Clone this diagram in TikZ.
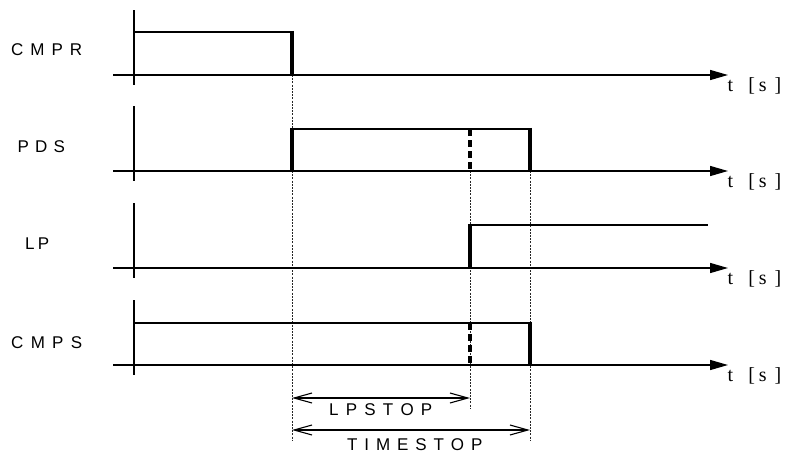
\documentclass[tikz,border=0pt]{standalone}
\usepackage{fontspec}
\setmainfont{Liberation Serif}
\newfontfamily\labfont{Liberation Sans}
\usetikzlibrary{arrows.meta}
\newcommand{\gp}[1]{\hspace{#1pt}}
\begin{document}
\begin{tikzpicture}[x=1pt,y=-1pt,
 taxis/.style={line width=1.4pt,-{Triangle[length=18pt,width=10pt]}},
 vaxis/.style={line width=1.5pt},
 sig/.style={line width=2.2pt},
 sedge/.style={line width=3.2pt},
 dedge/.style={line width=3.2pt,dash pattern=on 7pt off 4pt},
 guide/.style={line width=0.9pt,dash pattern=on 2pt off 1.2pt,black!85},
 dim/.style={line width=1.1pt,{Straight Barb[length=18pt,width=10pt]}-{Straight Barb[length=18pt,width=10pt]}},
 lab/.style={font=\labfont\fontsize{17}{20}\selectfont,anchor=base west,inner sep=0pt},
 unitlab/.style={font=\fontsize{20}{24}\selectfont,anchor=base west,inner sep=0pt}]
\useasboundingbox (0,0) rectangle (791,450);
% guides
\coordinate (g1a) at (292,75);  \coordinate (g1b) at (292,440);
\coordinate (g2a) at (470,171); \coordinate (g2b) at (470,408);
\coordinate (g3a) at (530,171); \coordinate (g3b) at (530,440);
\draw[guide] (g1a) -- (g1b);
\draw[guide] (g2a) -- (g2b);
\draw[guide] (g3a) -- (g3b);
% axes
\foreach \yy/\nm in {75/a, 171/b, 268/c, 365/d}{
  \coordinate (h\nm s) at (113.3,\yy);
  \coordinate (h\nm e) at (728,\yy);
  \coordinate (v\nm s) at (134,\yy-65);
  \coordinate (v\nm e) at (134,\yy+10);
  \draw[taxis] (h\nm s) -- (h\nm e);
  \draw[vaxis] (v\nm s) -- (v\nm e);
  \node[unitlab] (u\nm) at (727.5,\yy+16.7) {t\gp{15}[\gp{4}s\gp{8}]};
}
% CMPR
\draw[sig] (134,32) -- (293,32);
\draw[sedge] (292,30.9) -- (292,75);
% PDS
\draw[sig] (291,129) -- (531,129);
\draw[sedge] (292,171) -- (292,127.9);
\draw[dedge] (470,129) -- (470,171);
\draw[sedge] (530,127.9) -- (530,171);
% LP
\draw[sig] (134,268) -- (470,268);
\draw[sedge] (470,268) -- (470,223.9);
\draw[sig] (469,225) -- (708,225);
% CMPS
\draw[sig] (134,323) -- (531,323);
\draw[dedge] (470,323) -- (470,365);
\draw[sedge] (530,321.9) -- (530,365);
% dimensions
\draw[dim] (g1a |- 0,398) coordinate (d1a) -- (g2a |- 0,398) coordinate (d1b);
\draw[dim] (g1a |- 0,430) coordinate (d2a) -- (g3a |- 0,430) coordinate (d2b);
% labels
\node[lab] (cmpr) at (11,55.7) {C\gp{7}M\gp{7}P\gp{7}R};
\node[lab] (pds)  at (17.5,152.7) {P\gp{6.2}D\gp{6.2}S};
\node[lab] (lp)   at (25,249.7) {L\gp{3.2}P};
\node[lab] (cmps) at (11,348) {C\gp{7.3}M\gp{7.3}P\gp{7.3}S};
\node[lab] (lpstop) at (329,415) {L\gp{7.2}P\gp{7.2}S\gp{7.2}T\gp{7.2}O\gp{7.2}P};
\node[lab] (timestop) at (347,450.5) {T\gp{6.9}I\gp{6.9}M\gp{6.9}E\gp{6.9}S\gp{6.9}T\gp{6.9}O\gp{6.9}P};
\end{tikzpicture}
\end{document}
